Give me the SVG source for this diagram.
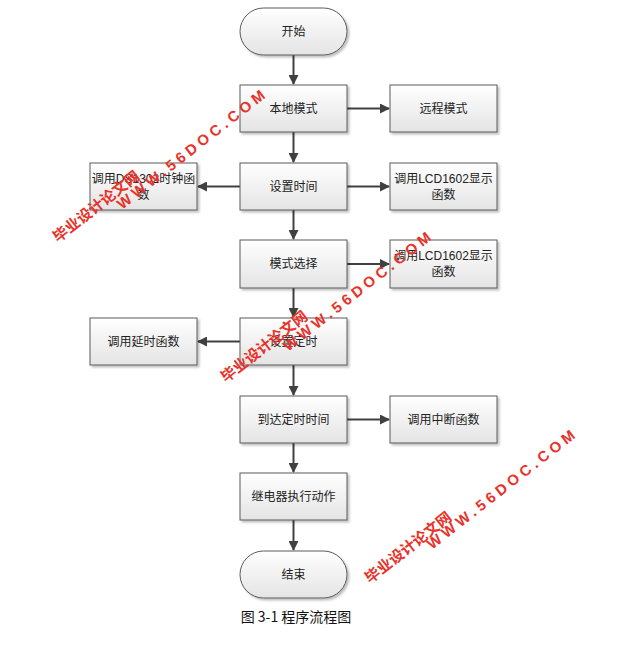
<svg xmlns="http://www.w3.org/2000/svg" width="617" height="645" viewBox="0 0 617 645">
<style>
.b{fill:url(#g);stroke:#5a5a5a;stroke-width:1;filter:url(#s)}
.t{font-family:"Liberation Sans","Noto Sans CJK SC",sans-serif;font-size:12px;fill:#222;text-anchor:middle}
.c{stroke:#404040;stroke-width:2;fill:none;marker-end:url(#a)}
.w{font-family:"Liberation Sans","Noto Sans CJK SC",sans-serif;font-weight:bold;fill:#e8322a}
</style>
<defs>
<linearGradient id="g" x1="0" y1="0" x2="0" y2="1"><stop offset="0" stop-color="#ffffff"/><stop offset="1" stop-color="#e4e4e4"/></linearGradient>
<filter id="s" x="-10%" y="-10%" width="130%" height="130%"><feDropShadow dx="2" dy="2" stdDeviation="1" flood-color="#000" flood-opacity="0.25"/></filter>
<marker id="a" markerWidth="10" markerHeight="10" refX="9" refY="5" orient="auto" markerUnits="userSpaceOnUse"><path d="M0,0 L10,5 L0,10 z" fill="#404040"/></marker>
</defs>
<rect width="617" height="645" fill="#fff"/>
<g id="connectors">
<path class="c" d="M293.5,55 V84"/>
<path class="c" d="M293.5,132 V162"/>
<path class="c" d="M293.5,210 V239"/>
<path class="c" d="M293.5,288 V317"/>
<path class="c" d="M293.5,365 V395"/>
<path class="c" d="M293.5,443 V472"/>
<path class="c" d="M293.5,520 V550"/>
<path class="c" d="M347,108.5 H389"/>
<path class="c" d="M347,186.5 H389"/>
<path class="c" d="M240,186.5 H198"/>
<path class="c" d="M347,264 H389"/>
<path class="c" d="M240,341.5 H198"/>
<path class="c" d="M347,419.5 H389"/>
</g>
<g id="start"><rect class="b" x="240" y="8" width="107" height="47" rx="23.5"/><text class="t" x="293.5" y="36">开始</text></g>
<g id="local"><rect class="b" x="240" y="85" width="107" height="47"/><text class="t" x="293.5" y="113">本地模式</text></g>
<g id="remote"><rect class="b" x="390" y="85" width="107" height="47"/><text class="t" x="443.5" y="113">远程模式</text></g>
<g id="settime"><rect class="b" x="240" y="163" width="107" height="47"/><text class="t" x="293.5" y="191">设置时间</text></g>
<g id="ds1302"><rect class="b" x="90" y="163" width="107" height="47"/><text class="t" x="143.5" y="183">调用DS1302时钟函</text><text class="t" x="143.5" y="199">数</text></g>
<g id="lcd1"><rect class="b" x="390" y="163" width="107" height="47"/><text class="t" x="443.5" y="183">调用LCD1602显示</text><text class="t" x="443.5" y="199">函数</text></g>
<g id="mode"><rect class="b" x="240" y="240" width="107" height="48"/><text class="t" x="293.5" y="268">模式选择</text></g>
<g id="lcd2"><rect class="b" x="390" y="240" width="107" height="48"/><text class="t" x="443.5" y="260">调用LCD1602显示</text><text class="t" x="443.5" y="276">函数</text></g>
<g id="timer"><rect class="b" x="240" y="318" width="107" height="47"/><text class="t" x="293.5" y="346">设置定时</text></g>
<g id="delay"><rect class="b" x="90" y="318" width="107" height="47"/><text class="t" x="143.5" y="346">调用延时函数</text></g>
<g id="reach"><rect class="b" x="240" y="396" width="107" height="47"/><text class="t" x="293.5" y="424">到达定时时间</text></g>
<g id="intr"><rect class="b" x="390" y="396" width="107" height="47"/><text class="t" x="443.5" y="424">调用中断函数</text></g>
<g id="relay"><rect class="b" x="240" y="473" width="107" height="47"/><text class="t" x="293.5" y="501">继电器执行动作</text></g>
<g id="end"><rect class="b" x="240" y="551" width="107" height="47" rx="23.5"/><text class="t" x="293.5" y="579">结束</text></g>
<text x="296" y="622" style="font-family:'Noto Sans CJK SC',sans-serif;font-size:14px;fill:#111;text-anchor:middle">图 3-1 程序流程图</text>
<g id="watermark">
<text class="w" font-size="15" transform="translate(58,243) rotate(-38)">毕业设计论文网</text>
<text class="w" font-size="15" letter-spacing="4" transform="translate(122,210) rotate(-38)">WWW.56DOC.COM</text>
<text class="w" font-size="15" transform="translate(226,383) rotate(-38)">毕业设计论文网</text>
<text class="w" font-size="15" letter-spacing="4" transform="translate(288,352) rotate(-38)">WWW.56DOC.COM</text>
<text class="w" font-size="15" transform="translate(370,584) rotate(-38)">毕业设计论文网</text>
<text class="w" font-size="15" letter-spacing="4" transform="translate(432,550) rotate(-38)">WWW.56DOC.COM</text>
</g>
</svg>
